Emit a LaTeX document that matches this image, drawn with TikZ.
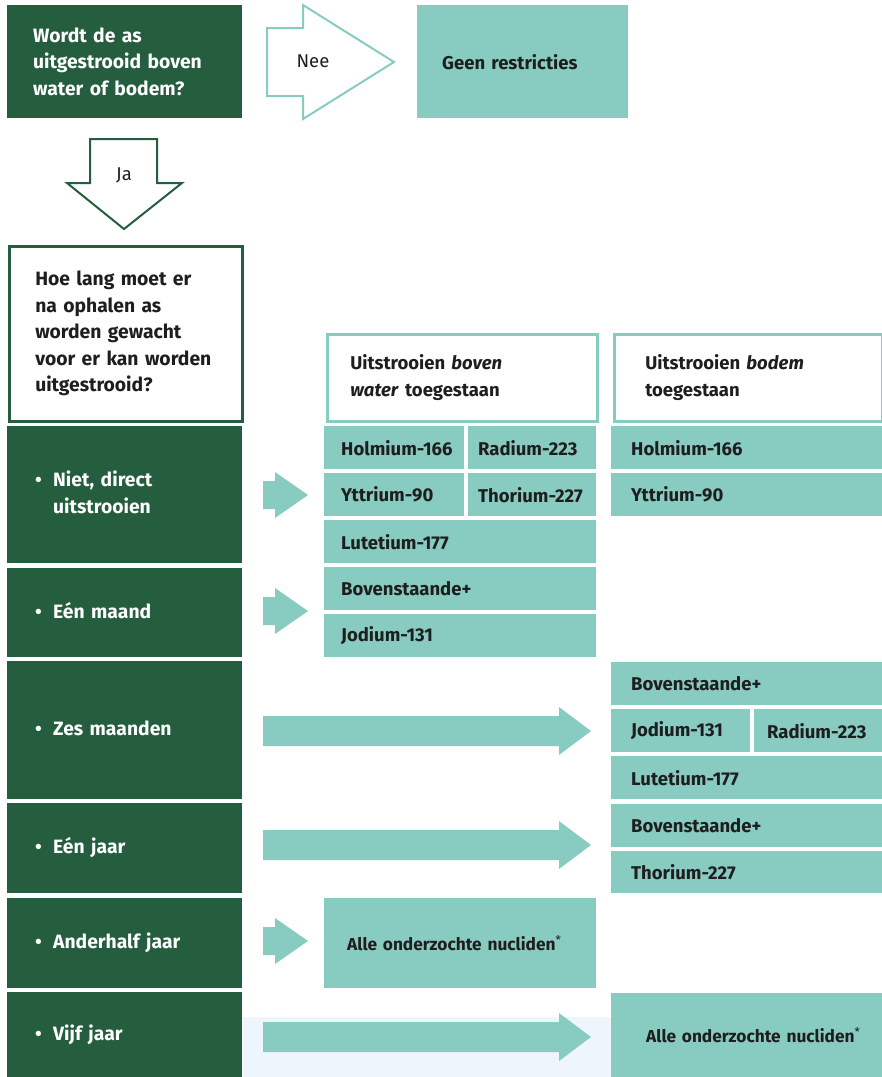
\documentclass[tikz,border=0pt]{standalone}
\usepackage{fontspec}
\setmainfont{Fira Sans}
\definecolor{dgreen}{HTML}{245E3E}
\definecolor{tealc}{HTML}{88CBC1}
\definecolor{ink}{HTML}{1E1E1E}
\definecolor{paleblue}{HTML}{EEF5FC}
\tikzset{
  box/.style={anchor=north west, inner ysep=0pt, align=left, font=\bfseries\fontsize{18.5}{26.5}\selectfont},
  darkbox/.style={box, fill=dgreen, text=white, font=\bfseries\fontsize{19.3}{26.5}\selectfont},
  cell/.style={box, fill=tealc, text=ink},
  hdr/.style={box, fill=white, draw=tealc, line width=2.5pt, text=ink},
  plain/.style={font=\fontsize{18.5}{20}\selectfont, text=ink, inner sep=0pt},
  allfont/.style={font=\bfseries\fontsize{17.3}{20}\selectfont},
}
\newcommand{\bul}[1]{\begin{tabular}{@{}p{18pt}@{}l@{}}\textbullet & #1\end{tabular}}
\begin{document}
\begin{tikzpicture}[x=1pt,y=-1pt]
\useasboundingbox (0,0) rectangle (882,1077);
% light background in last row
\fill[paleblue] (243,1017) rectangle (611,1077);

% top question
\node[darkbox, minimum width=235pt, minimum height=113pt, inner xsep=26pt, text width=183pt] (q1) at (7,5)
  {Wordt de as\\uitgestrooid boven\\water of bodem?};
\node[cell, minimum width=211pt, minimum height=113pt, inner xsep=25pt, text width=161pt] (geen) at (417,5)
  {Geen restricties};

% Nee arrow (outline)
\draw[tealc, line width=2pt, line join=miter] (267,28) -- (303,28) -- (303,5) -- (394,62) -- (303,119) -- (303,96) -- (267,96) -- cycle;
\node[plain] (nee) at (313,61) {Nee};
% Ja arrow (outline)
\draw[dgreen, line width=2pt, line join=miter] (90,139) -- (157,139) -- (157,183) -- (182,183) -- (124,229) -- (67,183) -- (90,183) -- cycle;
\node[plain] (ja) at (124,175) {Ja};

% second question
\node[box, fill=white, draw=dgreen, line width=2.5pt, text=ink, minimum width=233pt, minimum height=175pt, inner xsep=26pt, text width=181pt, font=\bfseries\fontsize{19.3}{26.5}\selectfont] (q2) at (8,245)
  {Hoe lang moet er\\na ophalen as\\worden gewacht\\voor er kan worden\\uitgestrooid?};

% headers
\node[hdr, minimum width=270pt, minimum height=87pt, inner xsep=23pt, text width=224pt] (hw) at (326,333)
  {Uitstrooien \textit{boven}\\\textit{water} toegestaan};
\node[hdr, minimum width=268pt, minimum height=87pt, inner xsep=31pt, text width=206pt] (hb) at (613,333)
  {Uitstrooien \textit{bodem}\\toegestaan};

% row labels
\node[darkbox, minimum width=235pt, minimum height=137pt, inner xsep=28pt, text width=179pt] (r1) at (7,426)
  {\bul{Niet, direct\\ & uitstrooien}};
\node[darkbox, minimum width=235pt, minimum height=89pt, inner xsep=28pt, text width=179pt] (r2) at (7,568)
  {\bul{Eén maand}};
\node[darkbox, minimum width=235pt, minimum height=138pt, inner xsep=28pt, text width=179pt] (r3) at (7,661)
  {\bul{Zes maanden}};
\node[darkbox, minimum width=235pt, minimum height=90pt, inner xsep=28pt, text width=179pt] (r4) at (7,803)
  {\bul{Eén jaar}};
\node[darkbox, minimum width=235pt, minimum height=90pt, inner xsep=28pt, text width=179pt] (r5) at (7,898)
  {\bul{Anderhalf jaar}};
\node[darkbox, minimum width=235pt, minimum height=85pt, inner xsep=28pt, text width=179pt] (r6) at (7,992)
  {\bul{Vijf jaar}};

% left column cells
\node[cell, minimum width=140pt, minimum height=43pt, inner xsep=17pt, text width=106pt] (lho) at (324,426) {\mbox{Holmium-166}};
\node[cell, minimum width=128pt, minimum height=43pt, inner xsep=10pt, text width=108pt] (lra) at (468,426) {\mbox{Radium-223}};
\node[cell, minimum width=140pt, minimum height=43pt, inner xsep=17pt, text width=106pt] (lyt) at (324,473) {\mbox{Yttrium-90}};
\node[cell, minimum width=128pt, minimum height=43pt, inner xsep=10pt, text width=108pt] (lth) at (468,473) {\mbox{Thorium-227}};
\node[cell, minimum width=272pt, minimum height=43pt, inner xsep=17pt, text width=238pt] (llu) at (324,520) {Lutetium-177};
\node[cell, minimum width=272pt, minimum height=43pt, inner xsep=17pt, text width=238pt] (lbo) at (324,567) {Bovenstaande+};
\node[cell, minimum width=272pt, minimum height=43pt, inner xsep=17pt, text width=238pt] (ljo) at (324,614) {Jodium-131};
\node[cell, allfont, minimum width=272pt, minimum height=90pt, inner xsep=23pt, text width=226pt] (lal) at (324,898) {\mbox{Alle onderzochte nucliden\textsuperscript{\mdseries *}}};

% right column cells
\node[cell, minimum width=271pt, minimum height=43pt, inner xsep=20pt, text width=231pt] (rho) at (611,426) {Holmium-166};
\node[cell, minimum width=271pt, minimum height=43pt, inner xsep=20pt, text width=231pt] (ryt) at (611,473) {Yttrium-90};
\node[cell, minimum width=271pt, minimum height=43pt, inner xsep=20pt, text width=231pt] (rb1) at (611,662) {Bovenstaande+};
\node[cell, minimum width=139pt, minimum height=43pt, inner xsep=20pt, text width=99pt] (rjo) at (611,709) {\mbox{Jodium-131}};
\node[cell, minimum width=128pt, minimum height=43pt, inner xsep=13pt, text width=102pt] (rra) at (754,709) {\mbox{Radium-223}};
\node[cell, minimum width=271pt, minimum height=43pt, inner xsep=20pt, text width=231pt] (rlu) at (611,756) {Lutetium-177};
\node[cell, minimum width=271pt, minimum height=43pt, inner xsep=20pt, text width=231pt] (rb2) at (611,804) {Bovenstaande+};
\node[cell, minimum width=271pt, minimum height=42pt, inner xsep=20pt, text width=231pt] (rth) at (611,851) {Thorium-227};
\node[cell, allfont, minimum width=271pt, minimum height=84pt, inner xsep=35pt, text width=201pt] (ral) at (611,993) {\mbox{Alle onderzochte nucliden\textsuperscript{\mdseries *}}};

% short block arrows
\foreach \cy in {495,611,941} {
  \fill[tealc] (263,\cy-14) -- (275,\cy-14) -- (275,\cy-23) -- (308,\cy) -- (275,\cy+23) -- (275,\cy+14) -- (263,\cy+14) -- cycle;
}
% long block arrows
\foreach \cy in {731,845,1037} {
  \fill[tealc] (263,\cy-15) -- (559,\cy-15) -- (559,\cy-24) -- (591,\cy) -- (559,\cy+24) -- (559,\cy+15) -- (263,\cy+15) -- cycle;
}
\end{tikzpicture}
\end{document}
